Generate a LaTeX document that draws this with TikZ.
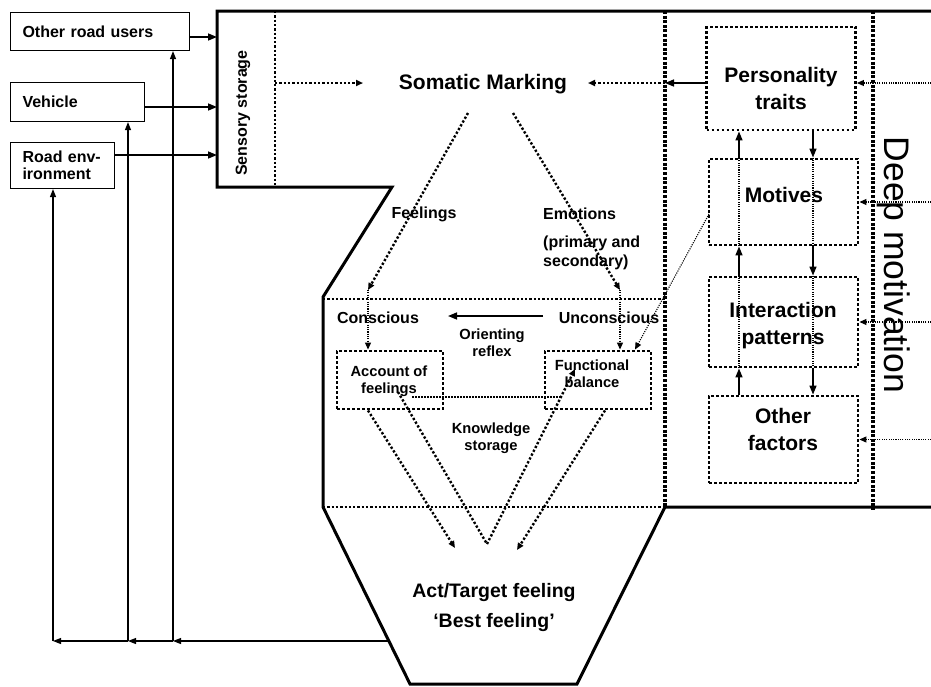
\documentclass[tikz,border=0pt]{standalone}
\usepackage{fontspec}
\setmainfont{Liberation Sans}
\usetikzlibrary{arrows.meta,calc}
\newcommand\myfs[2]{\fontsize{#1}{#2}\selectfont\bfseries}
\begin{document}
\begin{tikzpicture}[x=1pt,y=-1pt,
  outline/.style={line width=3pt,line join=miter},
  inbox/.style={draw,line width=1.1pt,inner xsep=12pt,inner ysep=0pt,align=left,anchor=north west,font=\myfs{16}{17}},
  dbox/.style={draw,line width=2.9pt,dash pattern=on 2.9pt off 2.1pt,inner sep=0pt},
  dotthick/.style={line width=3.1pt,dash pattern=on 3pt off 1.6pt},
  dotmed/.style={line width=2.4pt,dash pattern=on 2.3pt off 2pt},
  dotthin/.style={line width=1.1pt,dash pattern=on 1.1pt off 1.2pt},
  solidarr/.style={line width=1.5pt,-{Triangle[length=9pt,width=7pt]}},
  fbarr/.style={line width=1.1pt,-{Triangle[length=8pt,width=6pt]}},
  dtip/.style={-{Triangle[length=7pt,width=6pt]}},
  lab/.style={font=\myfs{16}{19},align=left,inner sep=0pt},
  small/.style={font=\myfs{14.7}{17},align=center,inner sep=0pt},
  big/.style={font=\myfs{21}{27},align=center,inner sep=0pt},
]
\useasboundingbox (0,0) rectangle (931,686);

% main outline
\draw[outline] (931,11) -- (217,11) -- (217,187) -- (392,187) -- (323,297) -- (323,507) -- (410,684) -- (577,684) -- (665,507) -- (931,507);

% dotted dividers
\draw[dotmed] (275,11) -- (275,187);
\draw[dotthick] (665,11) -- (665,507);
\draw[dotthick] (873,11) -- (873,510);
\draw[dotmed] (323,299) -- (665,299);
\draw[dotmed] (323,507) -- (665,507);

% input boxes
\node[inbox,minimum width=179pt,minimum height=38pt,text width=155pt] (oru) at (10,12) {Other road users};
\node[inbox,minimum width=134pt,minimum height=39pt,text width=110pt] (veh) at (10,82) {Vehicle};
\node[inbox,minimum width=104pt,minimum height=46pt,text width=80pt] (road) at (10,142) {Road env-\\ironment};

% texts
\node[lab,rotate=90] (sst) at (243,113) {Sensory storage};
\node[font=\myfs{21}{25},inner sep=0pt] (som) at (483,84) {Somatic Marking};

\node[dbox,minimum width=149pt,minimum height=103pt] (pers) at (781,78.5) {};
\node[dbox,minimum width=149pt,minimum height=86pt] (mot) at (783.5,202) {};
\node[dbox,minimum width=149pt,minimum height=90pt] (int) at (783.5,322) {};
\node[dbox,minimum width=149pt,minimum height=87pt] (oth) at (783.5,439.5) {};
\node[big] (perst) at (781,88) {Personality\\traits};
\node[big] (mott) at (784,195) {Motives};
\node[big] (intt) at (783,326) {Interaction\\patterns};
\node[big] (otht) at (783,429) {Other\\factors};

\node[lab] (feel) at (424,214) {Feelings};
\node[lab,anchor=west] (emo) at (543,214) {Emotions};
\node[lab,anchor=west] (prim) at (543,253) {(primary and\\secondary)};
\node[lab] (cons) at (378,318) {Conscious};
\node[lab] (uncons) at (609,318) {Unconscious};
\node[small] (orient) at (492,343) {Orienting\\reflex};
\node[dbox,minimum width=106pt,minimum height=58pt] (acc) at (390,380) {};
\node[small] (acct) at (389,381) {Account of\\feelings};
\node[dbox,minimum width=106pt,minimum height=58pt] (fun) at (598,380) {};
\node[small] (funt) at (592,374) {Functional\\balance};
\node[small] (know) at (491,438) {Knowledge\\storage};
\node[font=\myfs{19.5}{24},inner sep=0pt] (act) at (494,592) {Act/Target feeling};
\node[font=\myfs{19.5}{24},inner sep=0pt] (best) at (494,622) {‘Best feeling’};
\node[font=\fontsize{35.5}{40}\selectfont,rotate=-90,inner sep=0pt] (deep) at (894,265) {Deep motivation};

% coordinates
\coordinate (a1) at (217,37);
\coordinate (a2) at (217,107);
\coordinate (a3) at (217,155);
\coordinate (ss) at (275,83);
\coordinate (smL) at (363,83);
\coordinate (smR) at (588,83);
\coordinate (dv) at (665,83);
\coordinate (r1) at (931,83);
\coordinate (upx) at (739,0);
\coordinate (dnx) at (813,0);
\coordinate (smBL) at (468,113);
\coordinate (fL) at (368,290);
\coordinate (smBR) at (513,113);
\coordinate (eR) at (620,290);
\coordinate (mw) at (709,214);
\coordinate (ftx) at (635,0);
\coordinate (oS) at (543,316);
\coordinate (oE) at (448,316);
\coordinate (h1) at (412,397);
\coordinate (h2) at (560,397);
\coordinate (alx) at (368,0);
\coordinate (v1) at (455,548);
\coordinate (af) at (398,392);
\coordinate (vb) at (487,544);
\coordinate (fb2) at (575,369);
\coordinate (frx) at (605,0);
\coordinate (v2) at (517,550);
\coordinate (fb) at (389,641);
\coordinate (k1) at (173,641);
\coordinate (k2) at (128,641);
\coordinate (k3) at (53,641);

% input arrows
\draw[solidarr] (oru.east |- a1) -- (a1);
\draw[solidarr] (veh.east |- a2) -- (a2);
\draw[solidarr] (road.east |- a3) -- (a3);

% somatic marking arrows
\draw[dotmed,dtip] (ss) -- (smL);
\draw[solidarr] (pers.west |- dv) -- (dv);
\draw[dotmed,dtip] (dv) -- (smR);

% right-hand inputs
\draw[dotthin,dtip] (r1) -- (pers.east |- r1);
\draw[dotthin,dtip] (r1 |- mot.east) -- (mot.east);
\draw[dotthin,dtip] (r1 |- int.east) -- (int.east);
\draw[dotthin,dtip] (r1 |- oth.east) -- (oth.east);

% up chain
\draw[solidarr] (oth.north -| upx) -- (int.south -| upx);
\draw[dotthin] (int.south -| upx) -- (int.north -| upx);
\draw[solidarr] (int.north -| upx) -- (mot.south -| upx);
\draw[dotthin] (mot.south -| upx) -- (mot.north -| upx);
\draw[solidarr] (mot.north -| upx) -- (pers.south -| upx);
% down chain
\draw[solidarr] (pers.south -| dnx) -- (mot.north -| dnx);
\draw[dotthin] (mot.north -| dnx) -- (mot.south -| dnx);
\draw[solidarr] (mot.south -| dnx) -- (int.north -| dnx);
\draw[dotthin] (int.north -| dnx) -- (int.south -| dnx);
\draw[solidarr] (int.south -| dnx) -- (oth.north -| dnx);

% feelings / emotions
\draw[dotmed,dtip] (smBL) -- (fL);
\draw[dotthin,dtip] (fL) -- (acc.north -| fL);
\draw[dotmed,dtip] (smBR) -- (eR);
\draw[dotthin,dtip] (eR) -- (fun.north -| eR);
\draw[dotthin,dtip] (mw) -- (fun.north -| ftx);

% orienting reflex
\draw[solidarr] (oS) -- (oE);
\draw[dotthin,line width=1.5pt,dash pattern=on 1.5pt off 1.5pt] (h1) -- (h2);

% V arrows
\draw[dotmed,dtip] (acc.south -| alx) -- (v1);
\draw[dotmed] (af) -- (vb);
\draw[dotmed,dtip] (vb) -- (fb2);
\draw[dotmed,dtip] (fun.south -| frx) -- (v2);

% feedback
\draw[fbarr] (fb) -- (k1);
\draw[fbarr] (k1) -- (k2);
\draw[fbarr] (k2) -- (k3);
\draw[fbarr] (k1) -- (oru.south -| k1);
\draw[fbarr] (k2) -- (veh.south -| k2);
\draw[fbarr] (k3) -- (road.south -| k3);
\end{tikzpicture}
\end{document}
